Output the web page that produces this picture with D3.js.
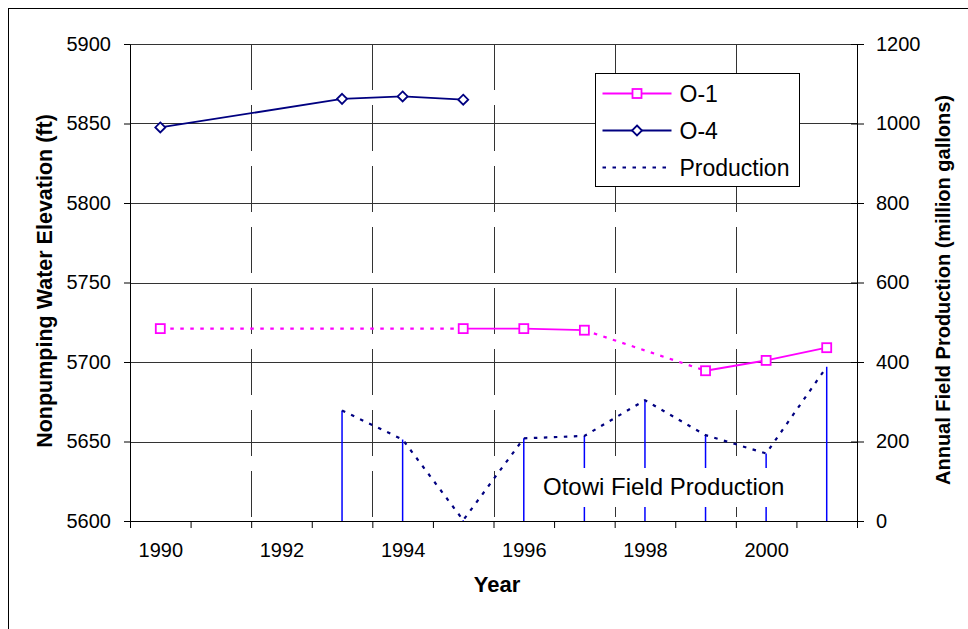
<!DOCTYPE html>
<html lang="en">

<head>
  <meta charset="utf-8">
  <title>Otowi water levels</title>
  <!-- D3 -->
  <script src="https://cdn.jsdelivr.net/npm/d3@7"></script>
  <style>
    body { margin: 0; background: #fff; }
    svg { display: block; font-family: "Liberation Sans", Arial, sans-serif; }
    .axis path, .axis line { stroke: #000; }
    .axis text { font-size: 20px; fill: #000; }
    .title { font-size: 20px; font-weight: bold; }
  </style>
</head>

<body>
  <svg id="chart" width="968" height="629"></svg>

  <script>
    // data
    var years = [1990, 1991, 1992, 1993, 1994, 1995, 1996, 1997, 1998, 1999, 2000, 2001];
    var o1 = [5721, null, null, null, null, 5721, 5721, 5720, null, 5694.5, 5701, 5709];
    var o4 = [5847.5, null, null, 5865.5, 5867, 5865, null, null, null, null, null, null];
    var production = [null, null, null, 278, 205, 2, 208, 214, 304, 216, 170, 388];
    var yearLabels = [1990, 1992, 1994, 1996, 1998, 2000];
    var leftTicks = [5600, 5650, 5700, 5750, 5800, 5850, 5900];
    var rightTicks = [0, 200, 400, 600, 800, 1000, 1200];

    // plot area (note: "top" is taken by window.top, so use other names)
    var plotL = 130, plotR = 857, plotT = 44, plotB = 521;
    var svg = d3.select("#chart");

    // outer frame (runs off the page at right/bottom)
    svg.append("rect")
      .attr("x", 8.5).attr("y", 8.5)
      .attr("width", 1000).attr("height", 700)
      .attr("fill", "none").attr("stroke", "#000");

    var x = d3.scaleLinear().domain([1989.5, 2001.5]).range([plotL, plotR]);
    var y = d3.scaleLinear().domain([5600, 5900]).range([plotB, plotT]);
    var y2 = d3.scaleLinear().domain([0, 1200]).range([plotB, plotT]);

    // horizontal gridlines
    svg.append("g").selectAll("line")
      .data(leftTicks.slice(1))
      .join("line")
      .attr("x1", plotL).attr("x2", plotR)
      .attr("y1", function (d) { return Math.round(y(d)) + 0.5; })
      .attr("y2", function (d) { return Math.round(y(d)) + 0.5; })
      .attr("stroke", "#333");

    // vertical dashed gridlines
    var gridYears = [1991.5, 1993.5, 1995.5, 1997.5, 1999.5];
    svg.append("g").selectAll("line")
      .data(gridYears)
      .join("line")
      .attr("x1", function (d) { return Math.round(x(d)) + 0.5; })
      .attr("x2", function (d) { return Math.round(x(d)) + 0.5; })
      .attr("y1", plotT).attr("y2", plotB)
      .attr("stroke", "#333")
      .attr("stroke-dasharray", "46,15");

    // production drop lines
    var prodPts = years.map(function (yr, i) { return [yr, production[i]]; })
      .filter(function (d) { return d[1] != null; });

    svg.append("g").selectAll("line")
      .data(prodPts)
      .join("line")
      .attr("x1", function (d) { return x(d[0]); })
      .attr("x2", function (d) { return x(d[0]); })
      .attr("y1", plotB)
      .attr("y2", function (d) { return y2(d[1]); })
      .attr("stroke", "#0000ff")
      .attr("stroke-width", 1.5);

    // production line, dotted navy
    svg.append("path")
      .datum(prodPts)
      .attr("fill", "none")
      .attr("stroke", "#000080")
      .attr("stroke-width", 2.2)
      .attr("stroke-dasharray", "3.5,6.5")
      .attr("d", d3.line().x(function (d) { return x(d[0]); }).y(function (d) { return y2(d[1]); }));

    // annotation box
    svg.append("rect")
      .attr("x", 537).attr("y", 468)
      .attr("width", 254).attr("height", 39)
      .attr("fill", "#fff");
    svg.append("text")
      .attr("x", 543).attr("y", 495)
      .style("font-size", "24px")
      .text("Otowi Field Production");

    // axes
    svg.append("g")
      .attr("class", "axis")
      .attr("transform", "translate(0," + plotB + ")")
      .call(d3.axisBottom(x).tickValues(d3.range(1989.5, 2002, 1)).tickFormat("").tickSizeOuter(0).tickSize(7));

    svg.append("g")
      .attr("class", "axis")
      .attr("transform", "translate(0," + plotB + ")")
      .call(d3.axisBottom(x).tickValues(yearLabels).tickFormat(d3.format("d")).tickSize(0).tickPadding(22))
      .call(function (g) { g.select(".domain").remove(); });

    svg.append("g")
      .attr("class", "axis")
      .attr("transform", "translate(" + plotL + ",0)")
      .call(d3.axisLeft(y).tickValues(leftTicks).tickFormat(d3.format("d")).tickSize(6).tickSizeOuter(0).tickPadding(13));

    var rAxis = svg.append("g")
      .attr("class", "axis")
      .attr("transform", "translate(" + plotR + ",0)")
      .call(d3.axisRight(y2).tickValues(rightTicks).tickFormat(d3.format("d")).tickSize(7).tickSizeOuter(0).tickPadding(12));
    rAxis.selectAll(".tick line").attr("x1", -6);

    // O-1 : solid where years are consecutive, dotted across missing years
    var o1Pts = years.map(function (yr, i) { return [yr, o1[i]]; })
      .filter(function (d) { return d[1] != null; });
    var lineFn = d3.line().x(function (d) { return x(d[0]); }).y(function (d) { return y(d[1]); });

    for (var i = 1; i < o1Pts.length; i++) {
      var seg = [o1Pts[i - 1], o1Pts[i]];
      var gap = o1Pts[i][0] - o1Pts[i - 1][0] > 1;
      svg.append("path")
        .datum(seg)
        .attr("fill", "none")
        .attr("stroke", "#ff00ff")
        .attr("stroke-width", gap ? 2.2 : 1.8)
        .attr("stroke-dasharray", gap ? "3.5,6.5" : null)
        .attr("d", lineFn);
    }

    svg.append("g").selectAll("rect")
      .data(o1Pts)
      .join("rect")
      .attr("x", function (d) { return x(d[0]) - 4.5; })
      .attr("y", function (d) { return y(d[1]) - 4.5; })
      .attr("width", 9).attr("height", 9)
      .attr("fill", "#fff")
      .attr("stroke", "#ff00ff")
      .attr("stroke-width", 1.8);

    // O-4
    var o4Pts = years.map(function (yr, i) { return [yr, o4[i]]; })
      .filter(function (d) { return d[1] != null; });

    svg.append("path")
      .datum(o4Pts)
      .attr("fill", "none")
      .attr("stroke", "#000080")
      .attr("stroke-width", 1.8)
      .attr("d", lineFn);

    var diamond = "M0,-5L5,0L0,5L-5,0Z";
    svg.append("g").selectAll("path")
      .data(o4Pts)
      .join("path")
      .attr("transform", function (d) { return "translate(" + x(d[0]) + "," + y(d[1]) + ")"; })
      .attr("d", diamond)
      .attr("fill", "#fff")
      .attr("stroke", "#000080")
      .attr("stroke-width", 1.8);

    // axis titles
    svg.append("text")
      .attr("class", "title")
      .attr("text-anchor", "middle")
      .attr("transform", "translate(52,281) rotate(-90)")
      .style("font-size", "21.5px")
      .text("Nonpumping Water Elevation (ft)");

    svg.append("text")
      .attr("class", "title")
      .attr("text-anchor", "middle")
      .attr("transform", "translate(950,290) rotate(-90)")
      .text("Annual Field Production (million gallons)");

    svg.append("text")
      .attr("class", "title")
      .attr("text-anchor", "middle")
      .attr("x", 497).attr("y", 592)
      .style("font-size", "22px")
      .text("Year");

    // legend
    var legend = svg.append("g").attr("transform", "translate(595.5,73.5)");
    legend.append("rect")
      .attr("width", 204).attr("height", 113)
      .attr("fill", "#fff").attr("stroke", "#000");

    var legendItems = [
      { name: "O-1", color: "#ff00ff", dash: null, marker: "square" },
      { name: "O-4", color: "#000080", dash: null, marker: "diamond" },
      { name: "Production", color: "#000080", dash: "3.5,6.5", marker: null }
    ];
    legend.selectAll("g.item")
      .data(legendItems)
      .join("g")
      .attr("class", "item")
      .attr("transform", function (d, i) { return "translate(0," + (20 + i * 37) + ")"; })
      .each(function (d) {
        var g = d3.select(this);
        g.append("line")
          .attr("x1", 7).attr("x2", 76)
          .attr("stroke", d.color).attr("stroke-width", d.dash ? 2.2 : 1.8)
          .attr("stroke-dasharray", d.dash);
        if (d.marker == "square") {
          g.append("rect").attr("x", 37).attr("y", -4.5).attr("width", 9).attr("height", 9)
            .attr("fill", "#fff").attr("stroke", d.color).attr("stroke-width", 1.8);
        } else if (d.marker == "diamond") {
          g.append("path").attr("transform", "translate(41.5,0)").attr("d", diamond)
            .attr("fill", "#fff").attr("stroke", d.color).attr("stroke-width", 1.8);
        }
        g.append("text")
          .attr("x", 84).attr("y", 8)
          .style("font-size", "23px")
          .text(d.name);
      });
  </script>
</body>

</html>
